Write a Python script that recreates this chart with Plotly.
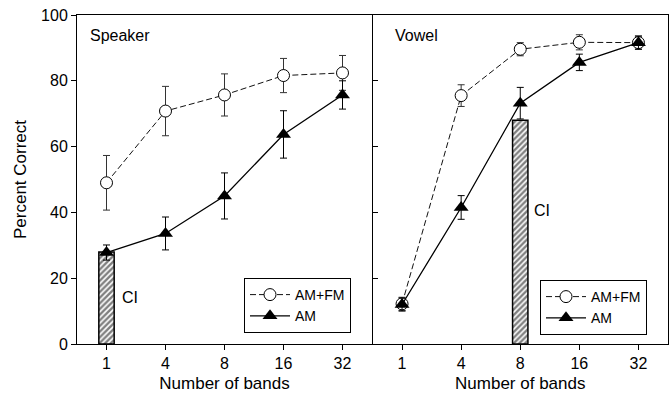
import plotly.graph_objects as go

bands = ["1", "4", "8", "16", "32"]

speaker_amfm = [49, 70.8, 75.7, 81.6, 82.4]
speaker_amfm_err = [8.3, 7.5, 6.4, 5.2, 5.3]
speaker_am = [27.8, 33.6, 45, 63.7, 75.7]
speaker_am_err = [2.3, 5.0, 7.0, 7.2, 4.3]
speaker_ci_band = "1"
speaker_ci = 28

vowel_amfm = [12.2, 75.5, 89.6, 91.7, 91.6]
vowel_amfm_err = [2.0, 3.3, 2.0, 2.3, 2.0]
vowel_am = [12.0, 41.5, 73.2, 85.6, 91.6]
vowel_am_err = [2.0, 3.6, 4.8, 2.5, 2.0]
vowel_ci_band = "8"
vowel_ci = 68

FONT = "Liberation Sans, Arial, sans-serif"

W, H = 671, 404


def px(X):
    return X / W


def py(Y):
    return 1 - Y / H


fig = go.Figure()


def add_panel(xa, ya, legend, amfm, amfm_err, am, am_err, ci_band, ci_val):
    fig.add_trace(go.Bar(
        x=[ci_band], y=[ci_val], width=0.26, xaxis=xa, yaxis=ya,
        marker=dict(color="white", line=dict(color="black", width=1.5),
                    pattern=dict(shape="/", fgcolor="black", bgcolor="white", size=4, solidity=0.6)),
        showlegend=False))
    fig.add_trace(go.Scatter(
        x=bands, y=amfm, xaxis=xa, yaxis=ya, name="AM+FM", legend=legend,
        mode="lines+markers",
        line=dict(color="#111", width=1, dash="6px,3px"),
        marker=dict(symbol="circle", size=12, color="white", line=dict(color="black", width=1)),
        error_y=dict(type="data", array=amfm_err, color="#333", thickness=1, width=3.5)))
    fig.add_trace(go.Scatter(
        x=bands, y=am, xaxis=xa, yaxis=ya, name="AM", legend=legend,
        mode="lines+markers",
        line=dict(color="black", width=1.3),
        marker=dict(symbol="triangle-up", size=13, color="black", line=dict(color="black", width=0)),
        error_y=dict(type="data", array=am_err, color="black", thickness=1, width=3.5)))


add_panel("x", "y", "legend", speaker_amfm, speaker_amfm_err, speaker_am, speaker_am_err,
          speaker_ci_band, speaker_ci)
add_panel("x2", "y2", "legend2", vowel_amfm, vowel_amfm_err, vowel_am, vowel_am_err,
          vowel_ci_band, vowel_ci)

ydom = [py(344), py(15)]
xcommon = dict(type="category", categoryorder="array", categoryarray=bands, range=[-0.5, 4.5],
               showline=True, linecolor="black", linewidth=1, mirror=True, automargin=False,
               ticks="outside", ticklen=5, tickcolor="black", showgrid=False, zeroline=False,
               tickfont=dict(size=16, color="black"), ticklabeloverflow="allow",
               title=dict(text="Number of bands", font=dict(size=17, color="black"), standoff=5))
ycommon = dict(range=[0, 100], tickvals=[0, 20, 40, 60, 80, 100], showline=True, linecolor="black",
               linewidth=1, mirror=True, showgrid=False, zeroline=False, tickcolor="black",
               automargin=False)

fig.update_layout(
    width=W, height=H,
    margin=dict(l=0, r=0, t=0, b=0, autoexpand=False),
    paper_bgcolor="white", plot_bgcolor="white",
    font=dict(family=FONT, color="black"),
    barmode="overlay",
    xaxis=dict(domain=[px(77), px(372)], anchor="y", **xcommon),
    xaxis2=dict(domain=[px(372.5), px(668)], anchor="y2", **xcommon),
    yaxis=dict(domain=ydom, anchor="x", ticks="outside", ticklen=5,
               tickfont=dict(size=16, color="black"), ticklabeloverflow="allow",
               title=dict(text="Percent Correct", font=dict(size=17, color="black"), standoff=10),
               **ycommon),
    yaxis3=dict(overlaying="y", side="right", anchor="x", range=[0, 100],
                tickvals=[0, 20, 40, 60, 80, 100], ticks="inside", ticklen=5, tickcolor="black",
                showticklabels=False, showline=False, showgrid=False, zeroline=False,
                automargin=False),
    yaxis2=dict(domain=ydom, anchor="x2", ticks="inside", ticklen=5, showticklabels=False, **ycommon),
    legend=dict(x=px(244), y=py(278), xanchor="left", yanchor="top",
                bordercolor="black", borderwidth=1, bgcolor="white",
                font=dict(size=14, color="black"), tracegroupgap=0, itemwidth=40),
    legend2=dict(x=px(540), y=py(280), xanchor="left", yanchor="top",
                 bordercolor="black", borderwidth=1, bgcolor="white",
                 font=dict(size=14, color="black"), tracegroupgap=0, itemwidth=40),
    annotations=[
        dict(text="Speaker", xref="x domain", yref="y domain", x=0.037, y=0.939,
             xanchor="left", yanchor="middle", showarrow=False, font=dict(size=16)),
        dict(text="Vowel", xref="x2 domain", yref="y2 domain", x=0.071, y=0.939,
             xanchor="left", yanchor="middle", showarrow=False, font=dict(size=16)),
        dict(text="CI", xref="x", yref="y", x=0.39, y=14, xanchor="center", yanchor="middle",
             showarrow=False, font=dict(size=16)),
        dict(text="CI", xref="x2", yref="y2", x=2.37, y=40.5, xanchor="center", yanchor="middle",
             showarrow=False, font=dict(size=16)),
    ],
)

fig.write_html(
    "out.html",
    config={"displayModeBar": False},
    post_script="document.body.style.margin='0';document.body.style.overflow='hidden';"
                "document.documentElement.style.overflow='hidden';",
)
